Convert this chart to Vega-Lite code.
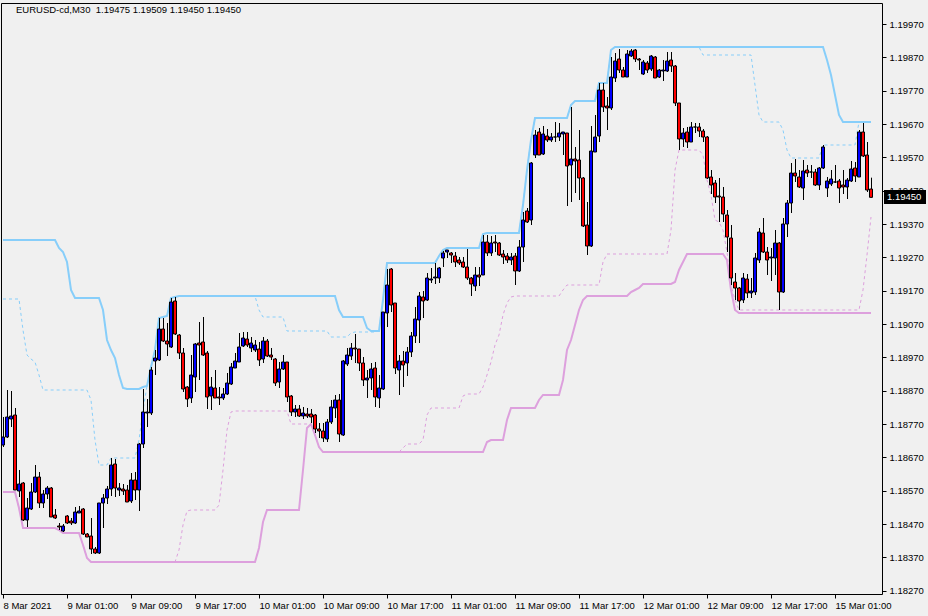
{
"$schema":"https://vega.github.io/schema/vega-lite/v6.json",
"width":881,"height":591,
"autosize":{"type":"none"},
"padding":{"left":1,"top":3,"right":46,"bottom":22},
"background":"#f0f0f0",
"config":{"view":{"stroke":"black","strokeWidth":1},"font":"Liberation Sans"},
"data":{"values":[
{"n":0,"o":1.18707,"h":1.18791,"l":1.18701,"c":1.18731,"u":1.19322,"ud":1.19145,"lo":1.18566,"ld":1.18566},
{"n":1,"o":1.18731,"h":1.18872,"l":1.18728,"c":1.18791,"u":1.19322,"ud":1.19145,"lo":1.18566,"ld":1.18566},
{"n":2,"o":1.18785,"h":1.18869,"l":1.18761,"c":1.18794,"u":1.19322,"ud":1.19145,"lo":1.18566,"ld":1.18566},
{"n":3,"o":1.18797,"h":1.18818,"l":1.18572,"c":1.18572,"u":1.19322,"ud":1.19145,"lo":1.18566,"ld":1.18566},
{"n":4,"o":1.18569,"h":1.18632,"l":1.18551,"c":1.18590,"u":1.19322,"ud":1.19145,"lo":1.18518,"ld":1.18518},
{"n":5,"o":1.18593,"h":1.18596,"l":1.18479,"c":1.18482,"u":1.19322,"ud":1.19052,"lo":1.18458,"ld":1.18458},
{"n":6,"o":1.18482,"h":1.18548,"l":1.18461,"c":1.18518,"u":1.19322,"ud":1.18977,"lo":1.18458,"ld":1.18458},
{"n":7,"o":1.18515,"h":1.18593,"l":1.18512,"c":1.18566,"u":1.19322,"ud":1.18965,"lo":1.18458,"ld":1.18458},
{"n":8,"o":1.18566,"h":1.18647,"l":1.18563,"c":1.18611,"u":1.19322,"ud":1.18956,"lo":1.18458,"ld":1.18458},
{"n":9,"o":1.18611,"h":1.18626,"l":1.18518,"c":1.18533,"u":1.19322,"ud":1.18917,"lo":1.18458,"ld":1.18458},
{"n":10,"o":1.18533,"h":1.18572,"l":1.18518,"c":1.18560,"u":1.19322,"ud":1.18872,"lo":1.18458,"ld":1.18458},
{"n":11,"o":1.18560,"h":1.18584,"l":1.18545,"c":1.18578,"u":1.19322,"ud":1.18872,"lo":1.18458,"ld":1.18458},
{"n":12,"o":1.18578,"h":1.18581,"l":1.18491,"c":1.18491,"u":1.19322,"ud":1.18872,"lo":1.18458,"ld":1.18458},
{"n":13,"o":1.18497,"h":1.18515,"l":1.18485,"c":1.18488,"u":1.19322,"ud":1.18872,"lo":1.18458,"ld":1.18458},
{"n":14,"o":1.18464,"h":1.18473,"l":1.18452,"c":1.18461,"u":1.19298,"ud":1.18872,"lo":1.18452,"ld":1.18452},
{"n":15,"o":1.18449,"h":1.18470,"l":1.18446,"c":1.18464,"u":1.19286,"ud":1.18872,"lo":1.18443,"ld":1.18443},
{"n":16,"o":1.18494,"h":1.18497,"l":1.18470,"c":1.18473,"u":1.19256,"ud":1.18872,"lo":1.18443,"ld":1.18443},
{"n":17,"o":1.18479,"h":1.18488,"l":1.18467,"c":1.18473,"u":1.19172,"ud":1.18872,"lo":1.18443,"ld":1.18443},
{"n":18,"o":1.18473,"h":1.18521,"l":1.18470,"c":1.18506,"u":1.19148,"ud":1.18872,"lo":1.18443,"ld":1.18443},
{"n":19,"o":1.18503,"h":1.18524,"l":1.18503,"c":1.18509,"u":1.19148,"ud":1.18872,"lo":1.18443,"ld":1.18443},
{"n":20,"o":1.18515,"h":1.18518,"l":1.18437,"c":1.18440,"u":1.19148,"ud":1.18872,"lo":1.18407,"ld":1.18407},
{"n":21,"o":1.18440,"h":1.18443,"l":1.18431,"c":1.18431,"u":1.19148,"ud":1.18872,"lo":1.18368,"ld":1.18368},
{"n":22,"o":1.18434,"h":1.18488,"l":1.18380,"c":1.18395,"u":1.19148,"ud":1.18842,"lo":1.18356,"ld":1.18356},
{"n":23,"o":1.18395,"h":1.18401,"l":1.18380,"c":1.18383,"u":1.19148,"ud":1.18722,"lo":1.18356,"ld":1.18356},
{"n":24,"o":1.18383,"h":1.18533,"l":1.18380,"c":1.18533,"u":1.19148,"ud":1.18647,"lo":1.18356,"ld":1.18356},
{"n":25,"o":1.18533,"h":1.18560,"l":1.18458,"c":1.18548,"u":1.19112,"ud":1.18647,"lo":1.18356,"ld":1.18356},
{"n":26,"o":1.18548,"h":1.18584,"l":1.18530,"c":1.18575,"u":1.19022,"ud":1.18647,"lo":1.18356,"ld":1.18356},
{"n":27,"o":1.18575,"h":1.18668,"l":1.18554,"c":1.18647,"u":1.18992,"ud":1.18668,"lo":1.18356,"ld":1.18356},
{"n":28,"o":1.18650,"h":1.18665,"l":1.18551,"c":1.18578,"u":1.18968,"ud":1.18668,"lo":1.18356,"ld":1.18356},
{"n":29,"o":1.18572,"h":1.18593,"l":1.18554,"c":1.18578,"u":1.18917,"ud":1.18668,"lo":1.18356,"ld":1.18356},
{"n":30,"o":1.18575,"h":1.18590,"l":1.18557,"c":1.18569,"u":1.18878,"ud":1.18668,"lo":1.18356,"ld":1.18356},
{"n":31,"o":1.18572,"h":1.18587,"l":1.18536,"c":1.18536,"u":1.18875,"ud":1.18668,"lo":1.18356,"ld":1.18356},
{"n":32,"o":1.18539,"h":1.18623,"l":1.18533,"c":1.18602,"u":1.18875,"ud":1.18668,"lo":1.18356,"ld":1.18356},
{"n":33,"o":1.18602,"h":1.18626,"l":1.18542,"c":1.18572,"u":1.18875,"ud":1.18668,"lo":1.18356,"ld":1.18356},
{"n":34,"o":1.18572,"h":1.18713,"l":1.18509,"c":1.18710,"u":1.18875,"ud":1.18722,"lo":1.18356,"ld":1.18356},
{"n":35,"o":1.18710,"h":1.18875,"l":1.18698,"c":1.18806,"u":1.18881,"ud":1.18812,"lo":1.18356,"ld":1.18356},
{"n":36,"o":1.18803,"h":1.18845,"l":1.18761,"c":1.18806,"u":1.18884,"ud":1.18884,"lo":1.18356,"ld":1.18356},
{"n":37,"o":1.18803,"h":1.18941,"l":1.18797,"c":1.18932,"u":1.18941,"ud":1.18941,"lo":1.18356,"ld":1.18356},
{"n":38,"o":1.18959,"h":1.18992,"l":1.18917,"c":1.18968,"u":1.18992,"ud":1.18992,"lo":1.18356,"ld":1.18356},
{"n":39,"o":1.18962,"h":1.19088,"l":1.18959,"c":1.19055,"u":1.19088,"ud":1.19088,"lo":1.18356,"ld":1.18356},
{"n":40,"o":1.19055,"h":1.19088,"l":1.19016,"c":1.19019,"u":1.19091,"ud":1.19091,"lo":1.18356,"ld":1.18356},
{"n":41,"o":1.19019,"h":1.19073,"l":1.18974,"c":1.19010,"u":1.19094,"ud":1.19094,"lo":1.18356,"ld":1.18356},
{"n":42,"o":1.19001,"h":1.19148,"l":1.18998,"c":1.19136,"u":1.19148,"ud":1.19148,"lo":1.18356,"ld":1.18356},
{"n":43,"o":1.19139,"h":1.19151,"l":1.19037,"c":1.19040,"u":1.19151,"ud":1.19151,"lo":1.18356,"ld":1.18356},
{"n":44,"o":1.19037,"h":1.19040,"l":1.18965,"c":1.18983,"u":1.19154,"ud":1.19154,"lo":1.18356,"ld":1.18392},
{"n":45,"o":1.18983,"h":1.18998,"l":1.18866,"c":1.18875,"u":1.19154,"ud":1.19154,"lo":1.18356,"ld":1.18467},
{"n":46,"o":1.18881,"h":1.18884,"l":1.18821,"c":1.18845,"u":1.19154,"ud":1.19154,"lo":1.18356,"ld":1.18509},
{"n":47,"o":1.18848,"h":1.18977,"l":1.18833,"c":1.18917,"u":1.19154,"ud":1.19154,"lo":1.18356,"ld":1.18512},
{"n":48,"o":1.18911,"h":1.19013,"l":1.18866,"c":1.19010,"u":1.19154,"ud":1.19154,"lo":1.18356,"ld":1.18512},
{"n":49,"o":1.19013,"h":1.19076,"l":1.18902,"c":1.19007,"u":1.19154,"ud":1.19154,"lo":1.18356,"ld":1.18512},
{"n":50,"o":1.19016,"h":1.19091,"l":1.18974,"c":1.18977,"u":1.19154,"ud":1.19154,"lo":1.18356,"ld":1.18512},
{"n":51,"o":1.18983,"h":1.18989,"l":1.18815,"c":1.18851,"u":1.19154,"ud":1.19154,"lo":1.18356,"ld":1.18512},
{"n":52,"o":1.18854,"h":1.18911,"l":1.18812,"c":1.18881,"u":1.19154,"ud":1.19154,"lo":1.18356,"ld":1.18512},
{"n":53,"o":1.18878,"h":1.18932,"l":1.18857,"c":1.18848,"u":1.19154,"ud":1.19154,"lo":1.18356,"ld":1.18512},
{"n":54,"o":1.18851,"h":1.18881,"l":1.18827,"c":1.18848,"u":1.19154,"ud":1.19154,"lo":1.18356,"ld":1.18527},
{"n":55,"o":1.18848,"h":1.18878,"l":1.18842,"c":1.18860,"u":1.19154,"ud":1.19154,"lo":1.18356,"ld":1.18632},
{"n":56,"o":1.18860,"h":1.18923,"l":1.18857,"c":1.18893,"u":1.19154,"ud":1.19154,"lo":1.18356,"ld":1.18752},
{"n":57,"o":1.18890,"h":1.18953,"l":1.18887,"c":1.18941,"u":1.19154,"ud":1.19154,"lo":1.18356,"ld":1.18806},
{"n":58,"o":1.18938,"h":1.18983,"l":1.18938,"c":1.18959,"u":1.19154,"ud":1.19154,"lo":1.18356,"ld":1.18809},
{"n":59,"o":1.18956,"h":1.19043,"l":1.18956,"c":1.19001,"u":1.19154,"ud":1.19154,"lo":1.18356,"ld":1.18809},
{"n":60,"o":1.19004,"h":1.19046,"l":1.19001,"c":1.19028,"u":1.19154,"ud":1.19154,"lo":1.18356,"ld":1.18809},
{"n":61,"o":1.19025,"h":1.19046,"l":1.19001,"c":1.19007,"u":1.19154,"ud":1.19154,"lo":1.18356,"ld":1.18809},
{"n":62,"o":1.18998,"h":1.19031,"l":1.18986,"c":1.19013,"u":1.19154,"ud":1.19154,"lo":1.18356,"ld":1.18809},
{"n":63,"o":1.18992,"h":1.19022,"l":1.18986,"c":1.19007,"u":1.19154,"ud":1.19154,"lo":1.18356,"ld":1.18809},
{"n":64,"o":1.18995,"h":1.19016,"l":1.18944,"c":1.18962,"u":1.19154,"ud":1.19112,"lo":1.18398,"ld":1.18809},
{"n":65,"o":1.18965,"h":1.19031,"l":1.18953,"c":1.19019,"u":1.19154,"ud":1.19091,"lo":1.18476,"ld":1.18809},
{"n":66,"o":1.19019,"h":1.19025,"l":1.18971,"c":1.18974,"u":1.19154,"ud":1.19091,"lo":1.18512,"ld":1.18809},
{"n":67,"o":1.18977,"h":1.18998,"l":1.18962,"c":1.18971,"u":1.19154,"ud":1.19091,"lo":1.18512,"ld":1.18809},
{"n":68,"o":1.18965,"h":1.18968,"l":1.18884,"c":1.18893,"u":1.19154,"ud":1.19091,"lo":1.18512,"ld":1.18809},
{"n":69,"o":1.18896,"h":1.18956,"l":1.18878,"c":1.18935,"u":1.19154,"ud":1.19091,"lo":1.18512,"ld":1.18809},
{"n":70,"o":1.18935,"h":1.18977,"l":1.18932,"c":1.18956,"u":1.19154,"ud":1.19091,"lo":1.18512,"ld":1.18809},
{"n":71,"o":1.18956,"h":1.18956,"l":1.18836,"c":1.18851,"u":1.19154,"ud":1.19049,"lo":1.18512,"ld":1.18809},
{"n":72,"o":1.18854,"h":1.18857,"l":1.18794,"c":1.18806,"u":1.19154,"ud":1.19049,"lo":1.18512,"ld":1.18770},
{"n":73,"o":1.18806,"h":1.18827,"l":1.18791,"c":1.18815,"u":1.19154,"ud":1.19049,"lo":1.18512,"ld":1.18770},
{"n":74,"o":1.18815,"h":1.18827,"l":1.18791,"c":1.18794,"u":1.19154,"ud":1.19049,"lo":1.18512,"ld":1.18770},
{"n":75,"o":1.18794,"h":1.18821,"l":1.18785,"c":1.18803,"u":1.19154,"ud":1.19049,"lo":1.18632,"ld":1.18770},
{"n":76,"o":1.18800,"h":1.18818,"l":1.18788,"c":1.18794,"u":1.19154,"ud":1.19049,"lo":1.18758,"ld":1.18770},
{"n":77,"o":1.18800,"h":1.18815,"l":1.18773,"c":1.18791,"u":1.19154,"ud":1.19049,"lo":1.18770,"ld":1.18770},
{"n":78,"o":1.18797,"h":1.18800,"l":1.18743,"c":1.18755,"u":1.19154,"ud":1.19049,"lo":1.18737,"ld":1.18737},
{"n":79,"o":1.18755,"h":1.18773,"l":1.18728,"c":1.18749,"u":1.19154,"ud":1.19049,"lo":1.18701,"ld":1.18701},
{"n":80,"o":1.18749,"h":1.18773,"l":1.18716,"c":1.18728,"u":1.19154,"ud":1.19049,"lo":1.18686,"ld":1.18686},
{"n":81,"o":1.18725,"h":1.18785,"l":1.18716,"c":1.18776,"u":1.19154,"ud":1.19049,"lo":1.18686,"ld":1.18686},
{"n":82,"o":1.18776,"h":1.18842,"l":1.18770,"c":1.18821,"u":1.19154,"ud":1.19031,"lo":1.18686,"ld":1.18686},
{"n":83,"o":1.18818,"h":1.18857,"l":1.18788,"c":1.18842,"u":1.19154,"ud":1.19031,"lo":1.18686,"ld":1.18686},
{"n":84,"o":1.18842,"h":1.18860,"l":1.18716,"c":1.18740,"u":1.19112,"ud":1.19031,"lo":1.18686,"ld":1.18686},
{"n":85,"o":1.18737,"h":1.18962,"l":1.18734,"c":1.18959,"u":1.19091,"ud":1.19031,"lo":1.18686,"ld":1.18686},
{"n":86,"o":1.18950,"h":1.18998,"l":1.18944,"c":1.18977,"u":1.19091,"ud":1.19031,"lo":1.18686,"ld":1.18686},
{"n":87,"o":1.18974,"h":1.19013,"l":1.18962,"c":1.18998,"u":1.19091,"ud":1.19043,"lo":1.18686,"ld":1.18686},
{"n":88,"o":1.18998,"h":1.19040,"l":1.18953,"c":1.18995,"u":1.19091,"ud":1.19046,"lo":1.18686,"ld":1.18686},
{"n":89,"o":1.18995,"h":1.18995,"l":1.18929,"c":1.18953,"u":1.19091,"ud":1.19046,"lo":1.18686,"ld":1.18686},
{"n":90,"o":1.18953,"h":1.18971,"l":1.18884,"c":1.18902,"u":1.19091,"ud":1.19046,"lo":1.18686,"ld":1.18686},
{"n":91,"o":1.18902,"h":1.18932,"l":1.18848,"c":1.18908,"u":1.19058,"ud":1.19046,"lo":1.18686,"ld":1.18686},
{"n":92,"o":1.18908,"h":1.18953,"l":1.18872,"c":1.18935,"u":1.19049,"ud":1.19046,"lo":1.18686,"ld":1.18686},
{"n":93,"o":1.18938,"h":1.18956,"l":1.18821,"c":1.18851,"u":1.19049,"ud":1.19046,"lo":1.18686,"ld":1.18686},
{"n":94,"o":1.18848,"h":1.18917,"l":1.18818,"c":1.18878,"u":1.19049,"ud":1.19049,"lo":1.18686,"ld":1.18686},
{"n":95,"o":1.18875,"h":1.19106,"l":1.18872,"c":1.19106,"u":1.19142,"ud":1.19142,"lo":1.18686,"ld":1.18686},
{"n":96,"o":1.19103,"h":1.19235,"l":1.19061,"c":1.19187,"u":1.19253,"ud":1.19253,"lo":1.18686,"ld":1.18686},
{"n":97,"o":1.19235,"h":1.19238,"l":1.19106,"c":1.19127,"u":1.19253,"ud":1.19253,"lo":1.18686,"ld":1.18686},
{"n":98,"o":1.19133,"h":1.19133,"l":1.18920,"c":1.18938,"u":1.19253,"ud":1.19253,"lo":1.18686,"ld":1.18686},
{"n":99,"o":1.18932,"h":1.18977,"l":1.18857,"c":1.18959,"u":1.19253,"ud":1.19253,"lo":1.18686,"ld":1.18686},
{"n":100,"o":1.18959,"h":1.18989,"l":1.18881,"c":1.18947,"u":1.19253,"ud":1.19253,"lo":1.18686,"ld":1.18698},
{"n":101,"o":1.18953,"h":1.19001,"l":1.18914,"c":1.18986,"u":1.19253,"ud":1.19253,"lo":1.18686,"ld":1.18710},
{"n":102,"o":1.18986,"h":1.19046,"l":1.18971,"c":1.19034,"u":1.19253,"ud":1.19253,"lo":1.18686,"ld":1.18710},
{"n":103,"o":1.19034,"h":1.19121,"l":1.19013,"c":1.19085,"u":1.19253,"ud":1.19253,"lo":1.18686,"ld":1.18710},
{"n":104,"o":1.19082,"h":1.19166,"l":1.19013,"c":1.19154,"u":1.19253,"ud":1.19253,"lo":1.18686,"ld":1.18710},
{"n":105,"o":1.19151,"h":1.19169,"l":1.19088,"c":1.19139,"u":1.19253,"ud":1.19253,"lo":1.18686,"ld":1.18722},
{"n":106,"o":1.19142,"h":1.19223,"l":1.19139,"c":1.19208,"u":1.19253,"ud":1.19253,"lo":1.18686,"ld":1.18797},
{"n":107,"o":1.19202,"h":1.19238,"l":1.19193,"c":1.19205,"u":1.19253,"ud":1.19253,"lo":1.18686,"ld":1.18818},
{"n":108,"o":1.19208,"h":1.19253,"l":1.19190,"c":1.19211,"u":1.19253,"ud":1.19253,"lo":1.18686,"ld":1.18818},
{"n":109,"o":1.19208,"h":1.19241,"l":1.19193,"c":1.19238,"u":1.19274,"ud":1.19274,"lo":1.18686,"ld":1.18818},
{"n":110,"o":1.19268,"h":1.19289,"l":1.19241,"c":1.19283,"u":1.19292,"ud":1.19292,"lo":1.18686,"ld":1.18818},
{"n":111,"o":1.19286,"h":1.19292,"l":1.19268,"c":1.19292,"u":1.19298,"ud":1.19298,"lo":1.18686,"ld":1.18818},
{"n":112,"o":1.19283,"h":1.19286,"l":1.19253,"c":1.19277,"u":1.19298,"ud":1.19298,"lo":1.18686,"ld":1.18818},
{"n":113,"o":1.19274,"h":1.19286,"l":1.19241,"c":1.19256,"u":1.19298,"ud":1.19298,"lo":1.18686,"ld":1.18818},
{"n":114,"o":1.19262,"h":1.19271,"l":1.19247,"c":1.19253,"u":1.19298,"ud":1.19298,"lo":1.18686,"ld":1.18818},
{"n":115,"o":1.19256,"h":1.19271,"l":1.19238,"c":1.19241,"u":1.19298,"ud":1.19298,"lo":1.18686,"ld":1.18854},
{"n":116,"o":1.19241,"h":1.19295,"l":1.19202,"c":1.19208,"u":1.19298,"ud":1.19298,"lo":1.18686,"ld":1.18860},
{"n":117,"o":1.19208,"h":1.19211,"l":1.19154,"c":1.19190,"u":1.19298,"ud":1.19298,"lo":1.18686,"ld":1.18860},
{"n":118,"o":1.19184,"h":1.19241,"l":1.19169,"c":1.19217,"u":1.19298,"ud":1.19298,"lo":1.18686,"ld":1.18860},
{"n":119,"o":1.19217,"h":1.19241,"l":1.19184,"c":1.19211,"u":1.19298,"ud":1.19298,"lo":1.18686,"ld":1.18860},
{"n":120,"o":1.19217,"h":1.19337,"l":1.19217,"c":1.19316,"u":1.19340,"ud":1.19340,"lo":1.18686,"ld":1.18881},
{"n":121,"o":1.19316,"h":1.19337,"l":1.19274,"c":1.19283,"u":1.19343,"ud":1.19343,"lo":1.18716,"ld":1.18917},
{"n":122,"o":1.19283,"h":1.19334,"l":1.19274,"c":1.19313,"u":1.19343,"ud":1.19343,"lo":1.18722,"ld":1.18956},
{"n":123,"o":1.19316,"h":1.19337,"l":1.19286,"c":1.19313,"u":1.19343,"ud":1.19343,"lo":1.18722,"ld":1.19007},
{"n":124,"o":1.19313,"h":1.19316,"l":1.19274,"c":1.19277,"u":1.19343,"ud":1.19343,"lo":1.18722,"ld":1.19037},
{"n":125,"o":1.19280,"h":1.19292,"l":1.19250,"c":1.19271,"u":1.19343,"ud":1.19343,"lo":1.18722,"ld":1.19097},
{"n":126,"o":1.19274,"h":1.19283,"l":1.19253,"c":1.19262,"u":1.19343,"ud":1.19343,"lo":1.18782,"ld":1.19133},
{"n":127,"o":1.19262,"h":1.19283,"l":1.19247,"c":1.19271,"u":1.19343,"ud":1.19343,"lo":1.18818,"ld":1.19151},
{"n":128,"o":1.19274,"h":1.19283,"l":1.19187,"c":1.19229,"u":1.19343,"ud":1.19343,"lo":1.18818,"ld":1.19154},
{"n":129,"o":1.19229,"h":1.19322,"l":1.19226,"c":1.19301,"u":1.19343,"ud":1.19343,"lo":1.18818,"ld":1.19154},
{"n":130,"o":1.19301,"h":1.19406,"l":1.19256,"c":1.19382,"u":1.19427,"ud":1.19427,"lo":1.18818,"ld":1.19154},
{"n":131,"o":1.19409,"h":1.19418,"l":1.19373,"c":1.19376,"u":1.19532,"ud":1.19532,"lo":1.18818,"ld":1.19154},
{"n":132,"o":1.19382,"h":1.19556,"l":1.19367,"c":1.19553,"u":1.19622,"ud":1.19622,"lo":1.18818,"ld":1.19154},
{"n":133,"o":1.19577,"h":1.19652,"l":1.19568,"c":1.19637,"u":1.19688,"ud":1.19688,"lo":1.18818,"ld":1.19154},
{"n":134,"o":1.19646,"h":1.19658,"l":1.19577,"c":1.19577,"u":1.19688,"ud":1.19688,"lo":1.18842,"ld":1.19154},
{"n":135,"o":1.19580,"h":1.19664,"l":1.19577,"c":1.19640,"u":1.19688,"ud":1.19688,"lo":1.18857,"ld":1.19154},
{"n":136,"o":1.19634,"h":1.19655,"l":1.19616,"c":1.19622,"u":1.19688,"ud":1.19688,"lo":1.18857,"ld":1.19154},
{"n":137,"o":1.19622,"h":1.19643,"l":1.19616,"c":1.19631,"u":1.19688,"ud":1.19688,"lo":1.18857,"ld":1.19154},
{"n":138,"o":1.19631,"h":1.19676,"l":1.19616,"c":1.19631,"u":1.19688,"ud":1.19688,"lo":1.18857,"ld":1.19154},
{"n":139,"o":1.19631,"h":1.19673,"l":1.19619,"c":1.19643,"u":1.19688,"ud":1.19688,"lo":1.18857,"ld":1.19154},
{"n":140,"o":1.19640,"h":1.19646,"l":1.19577,"c":1.19646,"u":1.19688,"ud":1.19688,"lo":1.18902,"ld":1.19172},
{"n":141,"o":1.19643,"h":1.19643,"l":1.19424,"c":1.19544,"u":1.19688,"ud":1.19688,"lo":1.18992,"ld":1.19187},
{"n":142,"o":1.19547,"h":1.19721,"l":1.19436,"c":1.19565,"u":1.19727,"ud":1.19727,"lo":1.19022,"ld":1.19187},
{"n":143,"o":1.19565,"h":1.19601,"l":1.19463,"c":1.19559,"u":1.19739,"ud":1.19739,"lo":1.19067,"ld":1.19187},
{"n":144,"o":1.19562,"h":1.19652,"l":1.19442,"c":1.19508,"u":1.19739,"ud":1.19739,"lo":1.19112,"ld":1.19187},
{"n":145,"o":1.19508,"h":1.19511,"l":1.19361,"c":1.19364,"u":1.19739,"ud":1.19739,"lo":1.19142,"ld":1.19187},
{"n":146,"o":1.19367,"h":1.19436,"l":1.19277,"c":1.19304,"u":1.19739,"ud":1.19739,"lo":1.19154,"ld":1.19187},
{"n":147,"o":1.19304,"h":1.19664,"l":1.19301,"c":1.19589,"u":1.19739,"ud":1.19739,"lo":1.19154,"ld":1.19187},
{"n":148,"o":1.19586,"h":1.19697,"l":1.19586,"c":1.19631,"u":1.19739,"ud":1.19739,"lo":1.19154,"ld":1.19187},
{"n":149,"o":1.19634,"h":1.19793,"l":1.19616,"c":1.19772,"u":1.19793,"ud":1.19793,"lo":1.19154,"ld":1.19187},
{"n":150,"o":1.19772,"h":1.19793,"l":1.19706,"c":1.19721,"u":1.19793,"ud":1.19793,"lo":1.19154,"ld":1.19256},
{"n":151,"o":1.19724,"h":1.19751,"l":1.19652,"c":1.19718,"u":1.19793,"ud":1.19793,"lo":1.19154,"ld":1.19280},
{"n":152,"o":1.19718,"h":1.19871,"l":1.19712,"c":1.19811,"u":1.19892,"ud":1.19892,"lo":1.19154,"ld":1.19280},
{"n":153,"o":1.19808,"h":1.19883,"l":1.19796,"c":1.19859,"u":1.19901,"ud":1.19901,"lo":1.19154,"ld":1.19280},
{"n":154,"o":1.19865,"h":1.19895,"l":1.19823,"c":1.19832,"u":1.19901,"ud":1.19901,"lo":1.19154,"ld":1.19280},
{"n":155,"o":1.19832,"h":1.19841,"l":1.19811,"c":1.19811,"u":1.19901,"ud":1.19901,"lo":1.19154,"ld":1.19280},
{"n":156,"o":1.19811,"h":1.19892,"l":1.19811,"c":1.19880,"u":1.19901,"ud":1.19901,"lo":1.19154,"ld":1.19280},
{"n":157,"o":1.19874,"h":1.19895,"l":1.19871,"c":1.19889,"u":1.19901,"ud":1.19901,"lo":1.19166,"ld":1.19280},
{"n":158,"o":1.19892,"h":1.19895,"l":1.19856,"c":1.19865,"u":1.19901,"ud":1.19901,"lo":1.19172,"ld":1.19280},
{"n":159,"o":1.19865,"h":1.19868,"l":1.19832,"c":1.19862,"u":1.19901,"ud":1.19901,"lo":1.19178,"ld":1.19280},
{"n":160,"o":1.19820,"h":1.19862,"l":1.19817,"c":1.19856,"u":1.19901,"ud":1.19901,"lo":1.19190,"ld":1.19280},
{"n":161,"o":1.19853,"h":1.19859,"l":1.19823,"c":1.19832,"u":1.19901,"ud":1.19901,"lo":1.19190,"ld":1.19280},
{"n":162,"o":1.19835,"h":1.19877,"l":1.19829,"c":1.19874,"u":1.19901,"ud":1.19901,"lo":1.19190,"ld":1.19280},
{"n":163,"o":1.19871,"h":1.19874,"l":1.19808,"c":1.19808,"u":1.19901,"ud":1.19901,"lo":1.19190,"ld":1.19280},
{"n":164,"o":1.19811,"h":1.19835,"l":1.19808,"c":1.19832,"u":1.19901,"ud":1.19901,"lo":1.19190,"ld":1.19280},
{"n":165,"o":1.19829,"h":1.19862,"l":1.19799,"c":1.19832,"u":1.19901,"ud":1.19901,"lo":1.19190,"ld":1.19280},
{"n":166,"o":1.19829,"h":1.19886,"l":1.19826,"c":1.19859,"u":1.19901,"ud":1.19901,"lo":1.19190,"ld":1.19280},
{"n":167,"o":1.19862,"h":1.19886,"l":1.19826,"c":1.19844,"u":1.19901,"ud":1.19901,"lo":1.19190,"ld":1.19352},
{"n":168,"o":1.19844,"h":1.19847,"l":1.19724,"c":1.19733,"u":1.19901,"ud":1.19901,"lo":1.19196,"ld":1.19532},
{"n":169,"o":1.19733,"h":1.19733,"l":1.19592,"c":1.19625,"u":1.19901,"ud":1.19901,"lo":1.19232,"ld":1.19592},
{"n":170,"o":1.19625,"h":1.19658,"l":1.19601,"c":1.19643,"u":1.19901,"ud":1.19901,"lo":1.19256,"ld":1.19592},
{"n":171,"o":1.19646,"h":1.19661,"l":1.19598,"c":1.19616,"u":1.19901,"ud":1.19901,"lo":1.19280,"ld":1.19592},
{"n":172,"o":1.19616,"h":1.19676,"l":1.19616,"c":1.19661,"u":1.19901,"ud":1.19901,"lo":1.19280,"ld":1.19592},
{"n":173,"o":1.19661,"h":1.19673,"l":1.19643,"c":1.19661,"u":1.19901,"ud":1.19901,"lo":1.19280,"ld":1.19592},
{"n":174,"o":1.19661,"h":1.19673,"l":1.19631,"c":1.19649,"u":1.19901,"ud":1.19901,"lo":1.19280,"ld":1.19592},
{"n":175,"o":1.19649,"h":1.19655,"l":1.19616,"c":1.19631,"u":1.19901,"ud":1.19877,"lo":1.19280,"ld":1.19577},
{"n":176,"o":1.19631,"h":1.19634,"l":1.19505,"c":1.19508,"u":1.19901,"ud":1.19877,"lo":1.19280,"ld":1.19502},
{"n":177,"o":1.19511,"h":1.19532,"l":1.19460,"c":1.19487,"u":1.19901,"ud":1.19877,"lo":1.19280,"ld":1.19457},
{"n":178,"o":1.19493,"h":1.19502,"l":1.19433,"c":1.19451,"u":1.19901,"ud":1.19877,"lo":1.19280,"ld":1.19382},
{"n":179,"o":1.19454,"h":1.19508,"l":1.19376,"c":1.19451,"u":1.19901,"ud":1.19877,"lo":1.19280,"ld":1.19376},
{"n":180,"o":1.19451,"h":1.19481,"l":1.19376,"c":1.19400,"u":1.19901,"ud":1.19877,"lo":1.19280,"ld":1.19352},
{"n":181,"o":1.19397,"h":1.19412,"l":1.19286,"c":1.19331,"u":1.19901,"ud":1.19877,"lo":1.19262,"ld":1.19286},
{"n":182,"o":1.19328,"h":1.19367,"l":1.19187,"c":1.19208,"u":1.19901,"ud":1.19877,"lo":1.19172,"ld":1.19187},
{"n":183,"o":1.19196,"h":1.19223,"l":1.19142,"c":1.19178,"u":1.19901,"ud":1.19877,"lo":1.19112,"ld":1.19142},
{"n":184,"o":1.19178,"h":1.19181,"l":1.19112,"c":1.19139,"u":1.19901,"ud":1.19877,"lo":1.19103,"ld":1.19112},
{"n":185,"o":1.19142,"h":1.19223,"l":1.19133,"c":1.19208,"u":1.19901,"ud":1.19877,"lo":1.19103,"ld":1.19112},
{"n":186,"o":1.19205,"h":1.19220,"l":1.19148,"c":1.19163,"u":1.19901,"ud":1.19877,"lo":1.19103,"ld":1.19112},
{"n":187,"o":1.19163,"h":1.19208,"l":1.19148,"c":1.19169,"u":1.19901,"ud":1.19877,"lo":1.19103,"ld":1.19112},
{"n":188,"o":1.19166,"h":1.19283,"l":1.19157,"c":1.19268,"u":1.19901,"ud":1.19787,"lo":1.19103,"ld":1.19112},
{"n":189,"o":1.19262,"h":1.19358,"l":1.19253,"c":1.19346,"u":1.19901,"ud":1.19697,"lo":1.19103,"ld":1.19112},
{"n":190,"o":1.19343,"h":1.19388,"l":1.19283,"c":1.19286,"u":1.19901,"ud":1.19676,"lo":1.19103,"ld":1.19112},
{"n":191,"o":1.19286,"h":1.19301,"l":1.19217,"c":1.19262,"u":1.19901,"ud":1.19676,"lo":1.19103,"ld":1.19112},
{"n":192,"o":1.19268,"h":1.19298,"l":1.19199,"c":1.19271,"u":1.19901,"ud":1.19676,"lo":1.19103,"ld":1.19112},
{"n":193,"o":1.19268,"h":1.19352,"l":1.19217,"c":1.19313,"u":1.19901,"ud":1.19676,"lo":1.19103,"ld":1.19112},
{"n":194,"o":1.19313,"h":1.19316,"l":1.19112,"c":1.19166,"u":1.19901,"ud":1.19676,"lo":1.19103,"ld":1.19112},
{"n":195,"o":1.19166,"h":1.19388,"l":1.19163,"c":1.19370,"u":1.19901,"ud":1.19652,"lo":1.19103,"ld":1.19112},
{"n":196,"o":1.19370,"h":1.19442,"l":1.19331,"c":1.19433,"u":1.19901,"ud":1.19592,"lo":1.19103,"ld":1.19112},
{"n":197,"o":1.19433,"h":1.19553,"l":1.19403,"c":1.19523,"u":1.19901,"ud":1.19568,"lo":1.19103,"ld":1.19112},
{"n":198,"o":1.19523,"h":1.19565,"l":1.19496,"c":1.19514,"u":1.19901,"ud":1.19568,"lo":1.19103,"ld":1.19112},
{"n":199,"o":1.19511,"h":1.19532,"l":1.19478,"c":1.19481,"u":1.19901,"ud":1.19568,"lo":1.19103,"ld":1.19112},
{"n":200,"o":1.19478,"h":1.19562,"l":1.19442,"c":1.19529,"u":1.19901,"ud":1.19568,"lo":1.19103,"ld":1.19112},
{"n":201,"o":1.19532,"h":1.19547,"l":1.19511,"c":1.19523,"u":1.19901,"ud":1.19568,"lo":1.19103,"ld":1.19112},
{"n":202,"o":1.19526,"h":1.19547,"l":1.19508,"c":1.19526,"u":1.19901,"ud":1.19568,"lo":1.19103,"ld":1.19112},
{"n":203,"o":1.19526,"h":1.19535,"l":1.19484,"c":1.19487,"u":1.19901,"ud":1.19568,"lo":1.19103,"ld":1.19112},
{"n":204,"o":1.19487,"h":1.19541,"l":1.19472,"c":1.19538,"u":1.19901,"ud":1.19568,"lo":1.19103,"ld":1.19112},
{"n":205,"o":1.19538,"h":1.19607,"l":1.19535,"c":1.19601,"u":1.19901,"ud":1.19607,"lo":1.19103,"ld":1.19112},
{"n":206,"o":1.19478,"h":1.19511,"l":1.19451,"c":1.19499,"u":1.19862,"ud":1.19607,"lo":1.19103,"ld":1.19112},
{"n":207,"o":1.19490,"h":1.19532,"l":1.19484,"c":1.19505,"u":1.19817,"ud":1.19607,"lo":1.19103,"ld":1.19112},
{"n":208,"o":1.19496,"h":1.19547,"l":1.19493,"c":1.19496,"u":1.19757,"ud":1.19607,"lo":1.19103,"ld":1.19112},
{"n":209,"o":1.19499,"h":1.19505,"l":1.19433,"c":1.19478,"u":1.19697,"ud":1.19607,"lo":1.19103,"ld":1.19112},
{"n":210,"o":1.19487,"h":1.19532,"l":1.19460,"c":1.19481,"u":1.19676,"ud":1.19607,"lo":1.19103,"ld":1.19112},
{"n":211,"o":1.19481,"h":1.19508,"l":1.19445,"c":1.19502,"u":1.19676,"ud":1.19607,"lo":1.19103,"ld":1.19112},
{"n":212,"o":1.19499,"h":1.19559,"l":1.19496,"c":1.19535,"u":1.19676,"ud":1.19607,"lo":1.19103,"ld":1.19112},
{"n":213,"o":1.19538,"h":1.19556,"l":1.19496,"c":1.19514,"u":1.19676,"ud":1.19607,"lo":1.19103,"ld":1.19112},
{"n":214,"o":1.19511,"h":1.19652,"l":1.19511,"c":1.19646,"u":1.19676,"ud":1.19676,"lo":1.19103,"ld":1.19112},
{"n":215,"o":1.19646,"h":1.19673,"l":1.19571,"c":1.19574,"u":1.19676,"ud":1.19676,"lo":1.19103,"ld":1.19172},
{"n":216,"o":1.19577,"h":1.19616,"l":1.19466,"c":1.19472,"u":1.19676,"ud":1.19676,"lo":1.19103,"ld":1.19277},
{"n":217,"o":1.19475,"h":1.19509,"l":1.19450,"c":1.19450,"u":1.19676,"ud":1.19676,"lo":1.19103,"ld":1.19391}
]},
"layer":[
{"mark":{"type":"line","stroke":"#87cefa","strokeWidth":2},
 "encoding":{
 "x":{"field":"n","type":"quantitative","scale":{"domain":[-0.5,219.75],"nice":false,"zero":false,"padding":0},"axis":{"title":null,"values":[0,16,32,48,64,80,96,112,128,144,160,176,192,208],"labelExpr":"['8 Mar 2021','9 Mar 01:00','9 Mar 09:00','9 Mar 17:00','10 Mar 01:00','10 Mar 09:00','10 Mar 17:00','11 Mar 01:00','11 Mar 09:00','11 Mar 17:00','12 Mar 01:00','12 Mar 09:00','12 Mar 17:00','15 Mar 01:00'][round(datum.value/16)]","labelAlign":"left","labelFont":"Liberation Sans","labelFontSize":9.5,"labelColor":"black","tickColor":"black","tickSize":4,"labelPadding":2,"domain":false,"grid":false,"labelFlush":false,"labelOverlap":false,"labelBound":false}},
 "y":{"field":"u","type":"quantitative","scale":{"domain":[1.1826,1.20033],"nice":false,"zero":false,"padding":0},"axis":{"title":null,"orient":"right","values":[1.1827,1.1837,1.1847,1.1857,1.1867,1.1877,1.1887,1.1897,1.1907,1.1917,1.1927,1.1937,1.1947,1.1957,1.1967,1.1977,1.1987,1.1997],"format":".5f","labelFont":"Liberation Sans","labelFontSize":9.5,"labelColor":"black","tickColor":"black","tickSize":4,"labelPadding":3,"domain":false,"grid":false,"labelFlush":false,"labelOverlap":false,"labelBound":false}}}},
{"mark":{"type":"line","stroke":"#87cefa","strokeWidth":1,"strokeDash":[3,3]},
 "encoding":{
 "x":{"field":"n","type":"quantitative","axis":{"title":null,"values":[0,16,32,48,64,80,96,112,128,144,160,176,192,208],"labelExpr":"['8 Mar 2021','9 Mar 01:00','9 Mar 09:00','9 Mar 17:00','10 Mar 01:00','10 Mar 09:00','10 Mar 17:00','11 Mar 01:00','11 Mar 09:00','11 Mar 17:00','12 Mar 01:00','12 Mar 09:00','12 Mar 17:00','15 Mar 01:00'][round(datum.value/16)]","labelAlign":"left","labelFont":"Liberation Sans","labelFontSize":9.5,"labelColor":"black","tickColor":"black","tickSize":4,"labelPadding":2,"domain":false,"grid":false,"labelFlush":false,"labelOverlap":false,"labelBound":false}},
 "y":{"field":"ud","type":"quantitative","axis":{"title":null,"orient":"right","values":[1.1827,1.1837,1.1847,1.1857,1.1867,1.1877,1.1887,1.1897,1.1907,1.1917,1.1927,1.1937,1.1947,1.1957,1.1967,1.1977,1.1987,1.1997],"format":".5f","labelFont":"Liberation Sans","labelFontSize":9.5,"labelColor":"black","tickColor":"black","tickSize":4,"labelPadding":3,"domain":false,"grid":false,"labelFlush":false,"labelOverlap":false,"labelBound":false}}}},
{"mark":{"type":"line","stroke":"#dda0dd","strokeWidth":2},
 "encoding":{
 "x":{"field":"n","type":"quantitative","axis":{"title":null,"values":[0,16,32,48,64,80,96,112,128,144,160,176,192,208],"labelExpr":"['8 Mar 2021','9 Mar 01:00','9 Mar 09:00','9 Mar 17:00','10 Mar 01:00','10 Mar 09:00','10 Mar 17:00','11 Mar 01:00','11 Mar 09:00','11 Mar 17:00','12 Mar 01:00','12 Mar 09:00','12 Mar 17:00','15 Mar 01:00'][round(datum.value/16)]","labelAlign":"left","labelFont":"Liberation Sans","labelFontSize":9.5,"labelColor":"black","tickColor":"black","tickSize":4,"labelPadding":2,"domain":false,"grid":false,"labelFlush":false,"labelOverlap":false,"labelBound":false}},
 "y":{"field":"lo","type":"quantitative","axis":{"title":null,"orient":"right","values":[1.1827,1.1837,1.1847,1.1857,1.1867,1.1877,1.1887,1.1897,1.1907,1.1917,1.1927,1.1937,1.1947,1.1957,1.1967,1.1977,1.1987,1.1997],"format":".5f","labelFont":"Liberation Sans","labelFontSize":9.5,"labelColor":"black","tickColor":"black","tickSize":4,"labelPadding":3,"domain":false,"grid":false,"labelFlush":false,"labelOverlap":false,"labelBound":false}}}},
{"mark":{"type":"line","stroke":"#dda0dd","strokeWidth":1,"strokeDash":[3,3]},
 "encoding":{
 "x":{"field":"n","type":"quantitative","axis":{"title":null,"values":[0,16,32,48,64,80,96,112,128,144,160,176,192,208],"labelExpr":"['8 Mar 2021','9 Mar 01:00','9 Mar 09:00','9 Mar 17:00','10 Mar 01:00','10 Mar 09:00','10 Mar 17:00','11 Mar 01:00','11 Mar 09:00','11 Mar 17:00','12 Mar 01:00','12 Mar 09:00','12 Mar 17:00','15 Mar 01:00'][round(datum.value/16)]","labelAlign":"left","labelFont":"Liberation Sans","labelFontSize":9.5,"labelColor":"black","tickColor":"black","tickSize":4,"labelPadding":2,"domain":false,"grid":false,"labelFlush":false,"labelOverlap":false,"labelBound":false}},
 "y":{"field":"ld","type":"quantitative","axis":{"title":null,"orient":"right","values":[1.1827,1.1837,1.1847,1.1857,1.1867,1.1877,1.1887,1.1897,1.1907,1.1917,1.1927,1.1937,1.1947,1.1957,1.1967,1.1977,1.1987,1.1997],"format":".5f","labelFont":"Liberation Sans","labelFontSize":9.5,"labelColor":"black","tickColor":"black","tickSize":4,"labelPadding":3,"domain":false,"grid":false,"labelFlush":false,"labelOverlap":false,"labelBound":false}}}},
{"mark":{"type":"rule","stroke":"black","strokeWidth":1,"xOffset":0.5},
 "encoding":{
 "x":{"field":"n","type":"quantitative","axis":{"title":null,"values":[0,16,32,48,64,80,96,112,128,144,160,176,192,208],"labelExpr":"['8 Mar 2021','9 Mar 01:00','9 Mar 09:00','9 Mar 17:00','10 Mar 01:00','10 Mar 09:00','10 Mar 17:00','11 Mar 01:00','11 Mar 09:00','11 Mar 17:00','12 Mar 01:00','12 Mar 09:00','12 Mar 17:00','15 Mar 01:00'][round(datum.value/16)]","labelAlign":"left","labelFont":"Liberation Sans","labelFontSize":9.5,"labelColor":"black","tickColor":"black","tickSize":4,"labelPadding":2,"domain":false,"grid":false,"labelFlush":false,"labelOverlap":false,"labelBound":false}},
 "y":{"field":"l","type":"quantitative","axis":{"title":null,"orient":"right","values":[1.1827,1.1837,1.1847,1.1857,1.1867,1.1877,1.1887,1.1897,1.1907,1.1917,1.1927,1.1937,1.1947,1.1957,1.1967,1.1977,1.1987,1.1997],"format":".5f","labelFont":"Liberation Sans","labelFontSize":9.5,"labelColor":"black","tickColor":"black","tickSize":4,"labelPadding":3,"domain":false,"grid":false,"labelFlush":false,"labelOverlap":false,"labelBound":false}},"y2":{"field":"h"}}},
{"mark":{"type":"bar","size":3,"stroke":"black","strokeWidth":1},
 "encoding":{
 "x":{"field":"n","type":"quantitative","axis":{"title":null,"values":[0,16,32,48,64,80,96,112,128,144,160,176,192,208],"labelExpr":"['8 Mar 2021','9 Mar 01:00','9 Mar 09:00','9 Mar 17:00','10 Mar 01:00','10 Mar 09:00','10 Mar 17:00','11 Mar 01:00','11 Mar 09:00','11 Mar 17:00','12 Mar 01:00','12 Mar 09:00','12 Mar 17:00','15 Mar 01:00'][round(datum.value/16)]","labelAlign":"left","labelFont":"Liberation Sans","labelFontSize":9.5,"labelColor":"black","tickColor":"black","tickSize":4,"labelPadding":2,"domain":false,"grid":false,"labelFlush":false,"labelOverlap":false,"labelBound":false}},
 "y":{"field":"o","type":"quantitative","axis":{"title":null,"orient":"right","values":[1.1827,1.1837,1.1847,1.1857,1.1867,1.1877,1.1887,1.1897,1.1907,1.1917,1.1927,1.1937,1.1947,1.1957,1.1967,1.1977,1.1987,1.1997],"format":".5f","labelFont":"Liberation Sans","labelFontSize":9.5,"labelColor":"black","tickColor":"black","tickSize":4,"labelPadding":3,"domain":false,"grid":false,"labelFlush":false,"labelOverlap":false,"labelBound":false}},"y2":{"field":"c"},
 "fill":{"condition":{"test":"datum.c > datum.o","value":"#0000ff"},"value":"#ff0000"}}},
{"data":{"values":[{"p":1.1945,"t":"1.19450"}]},
 "mark":{"type":"rect","fill":"black","clip":false},
 "encoding":{
 "x":{"datum":220.25,"type":"quantitative","axis":{"title":null,"values":[0,16,32,48,64,80,96,112,128,144,160,176,192,208],"labelExpr":"['8 Mar 2021','9 Mar 01:00','9 Mar 09:00','9 Mar 17:00','10 Mar 01:00','10 Mar 09:00','10 Mar 17:00','11 Mar 01:00','11 Mar 09:00','11 Mar 17:00','12 Mar 01:00','12 Mar 09:00','12 Mar 17:00','15 Mar 01:00'][round(datum.value/16)]","labelAlign":"left","labelFont":"Liberation Sans","labelFontSize":9.5,"labelColor":"black","tickColor":"black","tickSize":4,"labelPadding":2,"domain":false,"grid":false,"labelFlush":false,"labelOverlap":false,"labelBound":false}},"x2":{"datum":230.75},
 "y":{"datum":1.19472,"type":"quantitative","axis":{"title":null,"orient":"right","values":[1.1827,1.1837,1.1847,1.1857,1.1867,1.1877,1.1887,1.1897,1.1907,1.1917,1.1927,1.1937,1.1947,1.1957,1.1967,1.1977,1.1987,1.1997],"format":".5f","labelFont":"Liberation Sans","labelFontSize":9.5,"labelColor":"black","tickColor":"black","tickSize":4,"labelPadding":3,"domain":false,"grid":false,"labelFlush":false,"labelOverlap":false,"labelBound":false}},"y2":{"datum":1.1943}}},
{"data":{"values":[{"p":1.1945,"t":"1.19450"}]},
 "mark":{"type":"text","align":"left","baseline":"middle","fill":"white","font":"Liberation Sans","fontSize":9.5,"clip":false},
 "encoding":{
 "x":{"datum":221.0,"type":"quantitative","axis":{"title":null,"values":[0,16,32,48,64,80,96,112,128,144,160,176,192,208],"labelExpr":"['8 Mar 2021','9 Mar 01:00','9 Mar 09:00','9 Mar 17:00','10 Mar 01:00','10 Mar 09:00','10 Mar 17:00','11 Mar 01:00','11 Mar 09:00','11 Mar 17:00','12 Mar 01:00','12 Mar 09:00','12 Mar 17:00','15 Mar 01:00'][round(datum.value/16)]","labelAlign":"left","labelFont":"Liberation Sans","labelFontSize":9.5,"labelColor":"black","tickColor":"black","tickSize":4,"labelPadding":2,"domain":false,"grid":false,"labelFlush":false,"labelOverlap":false,"labelBound":false}},
 "y":{"field":"p","type":"quantitative","axis":{"title":null,"orient":"right","values":[1.1827,1.1837,1.1847,1.1857,1.1867,1.1877,1.1887,1.1897,1.1907,1.1917,1.1927,1.1937,1.1947,1.1957,1.1967,1.1977,1.1987,1.1997],"format":".5f","labelFont":"Liberation Sans","labelFontSize":9.5,"labelColor":"black","tickColor":"black","tickSize":4,"labelPadding":3,"domain":false,"grid":false,"labelFlush":false,"labelOverlap":false,"labelBound":false}},"text":{"field":"t"}}},
{"data":{"values":[{"p":1.20012,"t":"EURUSD-cd,M30\u00a0\u00a01.19475 1.19509 1.19450 1.19450"}]},
 "mark":{"type":"text","align":"left","baseline":"middle","fill":"black","font":"Liberation Sans","fontSize":9.5},
 "encoding":{
 "x":{"datum":3.25,"type":"quantitative","axis":{"title":null,"values":[0,16,32,48,64,80,96,112,128,144,160,176,192,208],"labelExpr":"['8 Mar 2021','9 Mar 01:00','9 Mar 09:00','9 Mar 17:00','10 Mar 01:00','10 Mar 09:00','10 Mar 17:00','11 Mar 01:00','11 Mar 09:00','11 Mar 17:00','12 Mar 01:00','12 Mar 09:00','12 Mar 17:00','15 Mar 01:00'][round(datum.value/16)]","labelAlign":"left","labelFont":"Liberation Sans","labelFontSize":9.5,"labelColor":"black","tickColor":"black","tickSize":4,"labelPadding":2,"domain":false,"grid":false,"labelFlush":false,"labelOverlap":false,"labelBound":false}},
 "y":{"field":"p","type":"quantitative","axis":{"title":null,"orient":"right","values":[1.1827,1.1837,1.1847,1.1857,1.1867,1.1877,1.1887,1.1897,1.1907,1.1917,1.1927,1.1937,1.1947,1.1957,1.1967,1.1977,1.1987,1.1997],"format":".5f","labelFont":"Liberation Sans","labelFontSize":9.5,"labelColor":"black","tickColor":"black","tickSize":4,"labelPadding":3,"domain":false,"grid":false,"labelFlush":false,"labelOverlap":false,"labelBound":false}},"text":{"field":"t"}}}
]
}
